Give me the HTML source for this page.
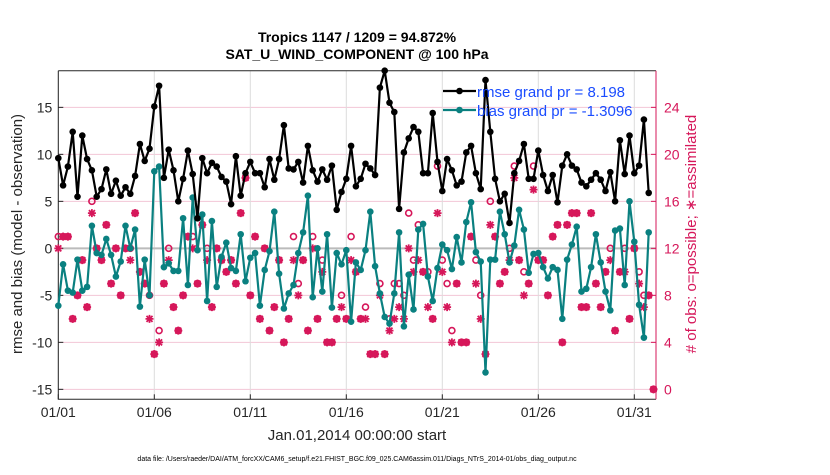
<!DOCTYPE html>
<html><head><meta charset="utf-8"><style>
body{margin:0;background:#fff;}
svg{font-family:"Liberation Sans",sans-serif;}
</style></head><body>
<svg id="chart" width="830" height="470" xmlns="http://www.w3.org/2000/svg">
<rect width="830" height="470" fill="#fff"/>
<text x="357" y="42" text-anchor="middle" font-size="14" font-weight="bold" fill="#000">Tropics 1147 / 1209 = 94.872%</text>
<text x="357" y="59" text-anchor="middle" font-size="14" font-weight="bold" fill="#000">SAT_U_WIND_COMPONENT @ 100 hPa</text>
<g id="grid"></g><g id="axes"></g><g id="series"></g>
<text x="357" y="440" text-anchor="middle" font-size="15" fill="#262626">Jan.01,2014 00:00:00 start</text>
<text x="357" y="461" text-anchor="middle" font-size="7" fill="#000">data file: /Users/raeder/DAI/ATM_forcXX/CAM6_setup/f.e21.FHIST_BGC.f09_025.CAM6assim.011/Diags_NTrS_2014-01/obs_diag_output.nc</text>
<text transform="translate(22,234) rotate(-90)" text-anchor="middle" font-size="15" fill="#262626">rmse and bias (model - observation)</text>
<text transform="translate(696,234) rotate(-90)" text-anchor="middle" font-size="15" fill="#d6175a"># of obs: o=possible; ∗=assimilated</text>
</svg>
<script>
const rmse=[9.6,6.7,8.7,12.4,5.5,12.0,9.5,8.3,5.5,6.3,8.4,5.8,7.2,5.6,6.5,5.8,7.7,11.1,9.3,10.6,15.1,17.3,7.5,10.5,8.3,5.0,7.4,10.4,7.9,3.2,9.6,8.0,9.1,8.7,7.6,7.1,4.7,9.8,5.6,8.0,9.2,8.0,8.0,6.5,9.5,7.3,9.5,13.1,8.5,8.4,9.2,7.0,10.9,8.3,7.1,8.4,7.3,8.8,4.1,6.0,7.4,10.9,6.6,7.4,9.0,8.5,7.8,17.1,18.9,15.5,14.5,4.2,10.2,11.7,12.9,12.4,8.0,8.0,14.4,9.2,6.1,9.5,8.3,6.7,7.1,10.2,10.9,8.0,6.3,17.9,12.4,7.4,5.0,5.8,2.7,8.0,9.3,11.1,7.4,7.4,10.4,7.8,6.1,7.8,4.9,8.8,10.0,8.8,8.4,7.0,6.6,7.3,8.0,7.3,6.1,8.1,5.0,11.5,7.9,12.0,8.0,8.8,13.7,5.9];
const bias=[-6.1,-1.7,-4.5,-4.7,-1.2,-4.5,-4.1,2.4,-0.5,-0.7,1.0,-0.7,-3.0,-1.4,2.4,0,2.0,-6.2,-1.2,-5.0,8.2,8.7,-2.0,-1.6,-2.4,-2.4,3.2,-3.9,5.4,-0.2,3.6,-5.6,2.9,-4.1,-0.9,0.6,-2.1,-2.4,1.5,-3.5,-1.0,-0.5,-6.1,-2.3,-0.3,3.9,-2.7,-6.4,-4.8,-3.9,-0.5,1.7,5.6,-5.2,0,-4.6,1.5,-6.3,-0.5,-1.7,-0.2,-7.8,-1.5,-2.3,-0.2,3.9,-1.9,-4.8,-7.3,-8.0,-4.8,1.7,-8.3,-2.8,-6.5,2.0,2.6,-3.0,-5.6,-2.1,0.4,-0.2,-2.2,1.2,-1.5,2.8,4.9,-0.4,-1.4,-13.2,-1.2,-1.2,3.9,1.5,-1.5,0.3,4.1,2.0,-2.6,-0.6,-0.5,-2.0,-3.2,-2.0,-2.3,-7.5,-1.2,0.4,2.3,-4.6,-4.3,-2.0,1.5,-1.5,-4.6,-6.6,1.9,2.1,-3.9,5.0,0.7,-6.0,-9.5,1.7];
const possible=[13,13,13,6,8,11,7,16,12,11,14,9,12,8,12,12,15,10,9,8,3,5,9,12,7,5,8,13,13,9,14,12,7,12,11,10,11,9,15,18,8,13,6,12,5,7,11,4,6,13,9,11,5,13,6,11,4,4,6,8,6,13,10,6,7,3,3,9,3,6,9,9,8,15,11,14,10,10,6,19,11,9,5,9,4,4,13,11,8,3,16,13,9,10,12,19,11,10,9,19,11,11,8,13,14,4,14,15,15,7,7,15,9,7,10,12,5,10,12,6,12,10,8,8,0];
const assimilated=[12,13,13,6,8,11,7,15,12,11,14,9,12,8,12,11,15,10,9,6,3,4,9,11,7,5,8,13,12,9,14,11,7,12,11,10,11,9,15,18,8,13,6,12,5,7,11,4,6,11,8,11,5,12,6,10,4,4,6,7,6,11,10,6,6,3,3,8,3,5,6,7,6,12,10,11,10,7,6,15,10,7,4,9,4,4,13,9,6,3,14,13,9,10,11,18,11,8,9,17,11,11,8,13,14,4,14,15,15,7,7,15,9,7,10,11,5,10,10,6,12,9,7,8,0];
const xTickDays=[0,5,10,15,20,25,30];
const xTickLabels=["01/01","01/06","01/11","01/16","01/21","01/26","01/31"];
const yTicks=[-15,-10,-5,0,5,10,15];
const rTicks=[0,4,8,12,16,20,24];
const X0=58.3,X1=656,D0=0,D1=31.13;
const Y0=399.3,Y1=70.7,V0=-16.06,V1=18.9;
function sx(d){return X0+(d-D0)/(D1-D0)*(X1-X0);}
function sy(v){return Y0-(v-V0)/(V1-V0)*(Y0-Y1);}
function sr(n){return sy(n*1.25-15);}
const NS="http://www.w3.org/2000/svg";
function mk(tag,attrs,parent){const e=document.createElementNS(NS,tag);for(const k in attrs)e.setAttribute(k,attrs[k]);parent.appendChild(e);return e;}
const gridG=document.getElementById('grid'),axesG=document.getElementById('axes'),serG=document.getElementById('series');
const PINK="#d6175a",TEAL="#0a8080";
rTicks.forEach(t=>{const g=mk('line',{x1:X0,x2:X1,y1:sr(t),y2:sr(t),stroke:'#f3c6d6','stroke-width':1},gridG);

});
xTickDays.forEach(d=>{const g=mk('line',{x1:sx(d),x2:sx(d),y1:Y1,y2:Y0,stroke:'#dcdcdc','stroke-width':1},gridG);

});
const zl=mk('line',{x1:X0,x2:X1,y1:sy(0),y2:sy(0),stroke:'#bbb','stroke-width':2},gridG);


const boxAx=mk('path',{d:`M${X0},${Y1}V${Y0}H${X1}`,fill:'none',stroke:'#262626','stroke-width':1},axesG);


const topAxis=mk('line',{x1:X0,x2:X1,y1:Y1,y2:Y1,stroke:'#262626','stroke-width':1},axesG);


const rightAxis=mk('line',{x1:X1,x2:X1,y1:Y1,y2:Y0,stroke:PINK,'stroke-width':1},axesG);


yTicks.forEach(t=>{const tl=mk('text',{x:X0-6,y:sy(t)+5,'text-anchor':'end','font-size':14,fill:'#262626'},axesG);tl.textContent=t;


mk('line',{x1:X0,x2:X0+5,y1:sy(t),y2:sy(t),stroke:'#262626'},axesG);});
rTicks.forEach(t=>{const tl=mk('text',{x:X1+8,y:sr(t)+5,'font-size':14,fill:PINK},axesG);tl.textContent=t;


mk('line',{x1:X1-5,x2:X1,y1:sr(t),y2:sr(t),stroke:PINK},axesG);});
xTickDays.forEach((d,i)=>{const tl=mk('text',{x:sx(d),y:417,'text-anchor':'middle','font-size':14,fill:'#262626'},axesG);tl.textContent=xTickLabels[i];


mk('line',{x1:sx(d),x2:sx(d),y1:Y0,y2:Y0-5,stroke:'#262626'},axesG);});
possible.forEach((p,i)=>{const x=sx(i*0.25);
const c=mk('circle',{cx:x,cy:sr(p),r:3,fill:'none',stroke:PINK,'stroke-width':1.6},serG);


const a=assimilated[i],y=sr(a),s=4;
const g=mk('path',{d:`M${x-s},${y}H${x+s}M${x},${y-s}V${y+s}M${x-3},${y-3}L${x+3},${y+3}M${x-3},${y+3}L${x+3},${y-3}`,stroke:PINK,'stroke-width':1.8,fill:'none'},serG);

});
function series(vals,color,name){
const pts=vals.map((v,i)=>`${sx(i*0.25).toFixed(1)},${sy(v).toFixed(1)}`).join(' ');
const pl=mk('polyline',{points:pts,fill:'none',stroke:color,'stroke-width':2.2,'stroke-linejoin':'round'},serG);


vals.forEach((v,i)=>{const c=mk('circle',{cx:sx(i*0.25),cy:sy(v),r:3.3,fill:color},serG);

});}
series(bias,TEAL,'bias');
series(rmse,'#000','rmse');
const lg=mk('g',{},serG);


[['#000','rmse grand pr = 8.198',91],[TEAL,'bias grand pr = -1.3096',110]].forEach(([c,t,y])=>{
mk('line',{x1:443,x2:476,y1:y,y2:y,stroke:c,'stroke-width':2.2},lg);
mk('circle',{cx:459.5,cy:y,r:3.3,fill:c},lg);
const tx=mk('text',{x:477,y:y+6,'font-size':15,fill:'#1a4cff'},lg);tx.textContent=t;

});
</script>
</body></html>
